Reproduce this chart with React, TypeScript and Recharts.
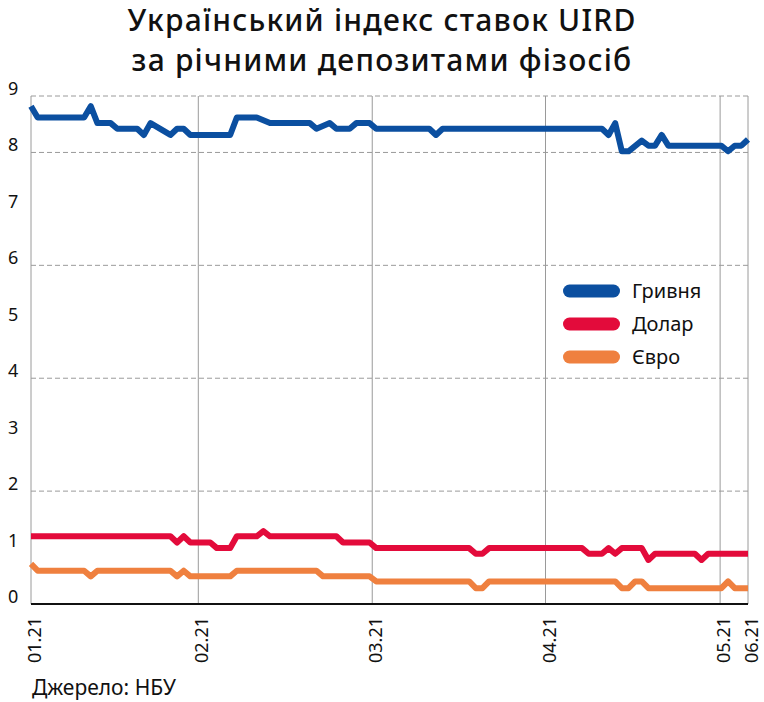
import { CartesianGrid, Legend, Line, LineChart, XAxis, YAxis } from "recharts";

const FONT = "'Noto Sans', sans-serif";

const TITLE = ["Український індекс ставок UIRD", "за річними депозитами фізосіб"];
const SOURCE = "Джерело: НБУ";

// month ticks sit on the day index where the month starts
const MONTH_TICKS = [0, 25.2, 51.4, 77.5, 103.8, 108];
const MONTH_LABELS = ["01.21", "02.21", "03.21", "04.21", "05.21", "06.21"];
const Y_TICKS = [0, 1, 2, 3, 4, 5, 6, 7, 8, 9];
const DASHED_LEVELS = [2, 4, 6, 8, 9];

// [day index, rate %] — only the points where the line turns
const UAH: [number, number][] = [
  [0, 8.82], [1, 8.62], [8, 8.62], [9, 8.82], [10, 8.52], [12, 8.52], [13, 8.42], [16, 8.42],
  [17, 8.31], [18, 8.52], [21, 8.31], [22, 8.42], [23, 8.42], [24, 8.31], [30, 8.31], [31, 8.62],
  [34, 8.62], [36, 8.52], [42, 8.52], [43, 8.42], [45, 8.52], [46, 8.42], [48, 8.42], [49, 8.52],
  [51, 8.52], [52, 8.42], [60, 8.42], [61, 8.31], [62, 8.42], [86, 8.42], [87, 8.31], [88, 8.52],
  [89, 8.02], [90, 8.02], [92, 8.21], [93, 8.12], [94, 8.12], [95, 8.31], [96, 8.12], [104, 8.12],
  [105, 8.02], [106, 8.12], [107, 8.12], [108, 8.23],
];

const USD: [number, number][] = [
  [0, 1.2], [21, 1.2], [22, 1.09], [23, 1.2], [24, 1.09], [27, 1.09], [28, 0.99], [30, 0.99],
  [31, 1.2], [34, 1.2], [35, 1.29], [36, 1.2], [46, 1.2], [47, 1.09], [51, 1.09], [52, 0.99],
  [66, 0.99], [67, 0.89], [68, 0.89], [69, 0.99], [83, 0.99], [84, 0.89], [86, 0.89], [87, 0.99],
  [88, 0.89], [89, 0.99], [92, 0.99], [93, 0.78], [94, 0.89], [100, 0.89], [101, 0.78], [102, 0.89],
  [108, 0.89],
];

const EUR: [number, number][] = [
  [0, 0.71], [1, 0.59], [8, 0.59], [9, 0.49], [10, 0.59], [21, 0.59], [22, 0.49], [23, 0.59],
  [24, 0.49], [30, 0.49], [31, 0.59], [43, 0.59], [44, 0.49], [51, 0.49], [52, 0.4], [66, 0.4],
  [67, 0.28], [68, 0.28], [69, 0.4], [88, 0.4], [89, 0.28], [90, 0.28], [91, 0.4], [92, 0.4],
  [93, 0.28], [104, 0.28], [105, 0.4], [106, 0.28], [108, 0.28],
];

const SERIES = [
  { name: "Гривня", color: "#0b4fa0", points: UAH },
  { name: "Долар", color: "#e30b3b", points: USD },
  { name: "Євро", color: "#ef803f", points: EUR },
];

const YTick = ({ y, payload }: any) => (
  <text x={8} y={y - 8} dominantBaseline="central" fontSize={18} fontFamily={FONT} fill="#111">
    {payload.value}
  </text>
);

const XTick = ({ x, y, payload, index }: any) => (
  <text
    transform={`translate(${x + 3},${y + 5}) rotate(-90)`}
    textAnchor="end"
    dominantBaseline="central"
    fontSize={18}
    fontFamily={FONT}
    fill="#111"
  >
    {MONTH_LABELS[index] ?? payload.value}
  </text>
);

const LegendBox = () => (
  <div style={{ fontFamily: FONT, fontSize: 20, color: "#111" }}>
    {SERIES.map((s) => (
      <div key={s.name} style={{ display: "flex", alignItems: "center", height: 33 }}>
        <svg width={57} height={14}>
          <line x1={6.5} y1={7} x2={50.5} y2={7} stroke={s.color} strokeWidth={13} strokeLinecap="round" />
        </svg>
        <span style={{ marginLeft: 12 }}>{s.name}</span>
      </div>
    ))}
  </div>
);

export default function App() {
  return (
    <div style={{ position: "absolute", left: 0, top: 0, width: 764, height: 702, background: "#fff", fontFamily: FONT }}>
      <div
        style={{
          position: "absolute",
          top: 0,
          left: 0,
          width: 764,
          textAlign: "center",
          fontSize: 30,
          fontWeight: 500,
          letterSpacing: 1.2,
          lineHeight: "40px",
          color: "#111",
        }}
      >
        {TITLE.map((t) => <div key={t}>{t}</div>)}
      </div>

      <LineChart width={764} height={702} margin={{ top: 96, right: 16, bottom: 38, left: 8 }}>
        <CartesianGrid horizontal={false} verticalValues={MONTH_TICKS} stroke="#9a9a9a" />
        <CartesianGrid vertical={false} horizontalValues={DASHED_LEVELS} stroke="#9a9a9a" strokeDasharray="5 3" />
        <XAxis
          type="number"
          dataKey="x"
          domain={[0, 108]}
          ticks={MONTH_TICKS}
          interval={0}
          height={60}
          tickLine={false}
          axisLine={{ stroke: "#111", strokeWidth: 2 }}
          tick={<XTick />}
        />
        <YAxis type="number" domain={[0, 9]} ticks={Y_TICKS} interval={0} width={23} axisLine={false} tickLine={false} tick={<YTick />} />
        <Legend
          layout="vertical"
          align="center"
          verticalAlign="middle"
          content={<LegendBox />}
          wrapperStyle={{ left: 563, top: 274, width: 160 }}
        />
        {SERIES.map((s) => (
          <Line
            key={s.name}
            data={s.points.map(([x, y]) => ({ x, y }))}
            dataKey="y"
            name={s.name}
            stroke={s.color}
            strokeWidth={6}
            strokeLinejoin="round"
            dot={false}
            isAnimationActive={false}
          />
        ))}
      </LineChart>

      <div style={{ position: "absolute", left: 32, top: 673, fontSize: 21, color: "#111" }}>{SOURCE}</div>
    </div>
  );
}
